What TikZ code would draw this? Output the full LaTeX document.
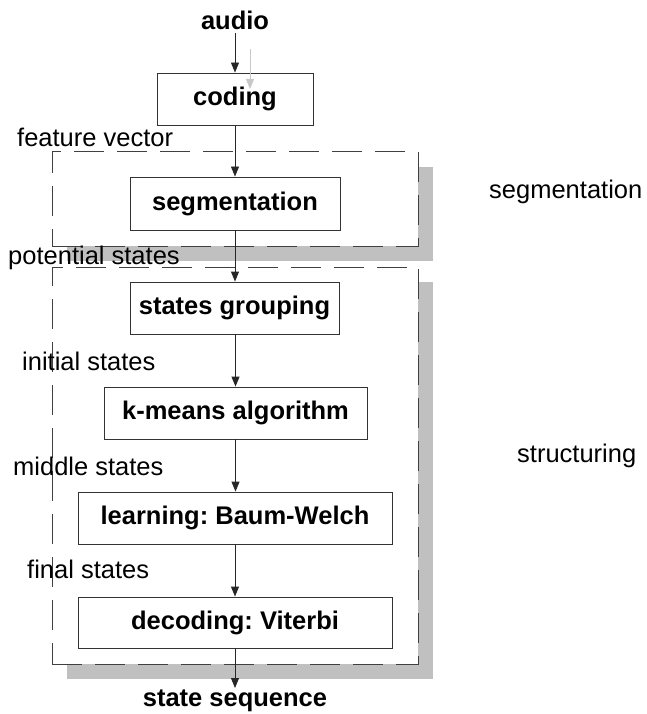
\documentclass[tikz,border=0pt]{standalone}
\usepackage{fontspec}
\setmainfont{Liberation Sans}
\usetikzlibrary{arrows.meta,shadows}
\frenchspacing
\definecolor{shadowgray}{RGB}{192,192,192}
\definecolor{dashgray}{RGB}{64,64,64}
\definecolor{lightarrow}{RGB}{200,200,200}
\tikzset{
  procbox/.style={draw=black!80, line width=0.9pt, fill=white, inner sep=0pt,
    font=\fontsize{25.5pt}{30pt}\selectfont\bfseries},
  groupbox/.style={draw=dashgray, line width=1pt, fill=white, inner sep=0pt,
    dash pattern=on 30pt off 13pt,
    drop shadow={shadow xshift=15pt, shadow yshift=-15pt, fill=shadowgray, opacity=1, draw=none}},
  lbl/.style={inner sep=0pt, font=\fontsize{25.5pt}{30pt}\selectfont},
  blbl/.style={inner sep=0pt, font=\fontsize{25.5pt}{30pt}\selectfont\bfseries},
  flow/.style={draw=black!85, line width=0.9pt, -{Triangle[length=10pt,width=8pt]}},
}
\begin{document}
\begin{tikzpicture}[x=1pt,y=-1pt]
\useasboundingbox (0,0) rectangle (647,714);
% groups
\node[groupbox, minimum width=366pt, minimum height=94pt] (seggroup) at (235,199) {};
\node[groupbox, minimum width=366pt, minimum height=397pt] (strgroup) at (235,465.5) {};
% labels
\node[blbl, anchor=base] (audio) at (235,30) {audio};
\node[lbl, anchor=base west] (fv) at (17,147) {feature vector};
\node[lbl, anchor=base west] (ps) at (8,264) {potential states};
\node[lbl, anchor=base west] (is) at (22,370) {initial states};
\node[lbl, anchor=base west] (ms) at (13,475) {middle states};
\node[lbl, anchor=base west] (fs) at (27,578) {final states};
\node[blbl, anchor=base] (seq) at (235,706) {state sequence};
\node[lbl, anchor=base west] (seglbl) at (489,198) {segmentation};
\node[lbl, anchor=base west] (strlbl) at (517,462) {structuring};
% boxes
\node[procbox, minimum width=156pt, minimum height=52pt] (coding) at (235,99) {coding};
\node[procbox, minimum width=210pt, minimum height=53pt] (seg) at (235,203.5) {segmentation};
\node[procbox, minimum width=209pt, minimum height=52pt] (sg) at (234.5,308) {states grouping};
\node[procbox, minimum width=263pt, minimum height=52pt] (km) at (235.5,413) {k-means algorithm};
\node[procbox, minimum width=314pt, minimum height=52pt] (bw) at (235,518) {learning: Baum-Welch};
\node[procbox, minimum width=314pt, minimum height=51pt] (vit) at (235,622.5) {decoding: Viterbi};
% connectors
\coordinate (audioend) at (235,33);
\coordinate (seqend) at (235,688);
\draw[flow] (audioend) -- (coding.north);
\draw[flow] (coding.south) -- (seg.north);
\draw[flow] (seg.south) -- (sg.north -| seg.south);
\draw[flow] (sg.south -| km.north) -- (km.north);
\draw[flow] (km.south) -- (bw.north -| km.south);
\draw[flow] (bw.south) -- (vit.north);
\draw[flow] (vit.south) -- (seqend);
% light gray arrow
\coordinate (g1) at (250,49);
\coordinate (g2) at (250,89);
\draw[draw=lightarrow, line width=0.9pt, -{Triangle[length=10pt,width=8pt]}] (g1) -- (g2);
\end{tikzpicture}
\end{document}
